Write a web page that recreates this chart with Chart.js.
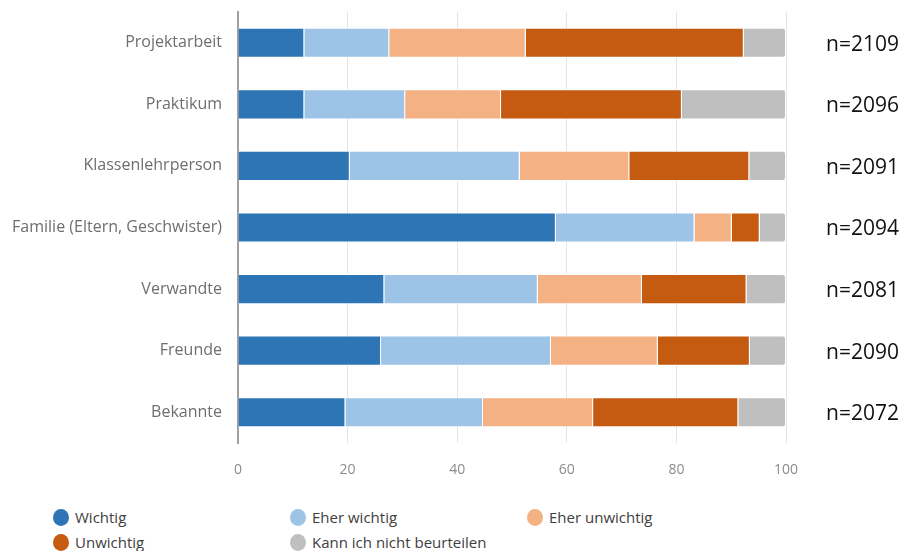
<!DOCTYPE html>
<html lang="de">
<head>
    <meta charset="UTF-8">
    <title>Wichtigkeit Berufswahl</title>
    <script src="https://cdn.jsdelivr.net/npm/chart.js"></script>
    <style>
        html, body { margin: 0; padding: 0; background: #fff; }
        .wrap { position: relative; width: 902px; height: 551px; font-family: "Open Sans", sans-serif; }
        .chart-box { position: absolute; left: 0; top: 0; width: 902px; height: 490px; }
        .legend { position: absolute; left: 53px; top: 506px; display: grid; grid-template-columns: 237px 237px 237px; row-gap: 3px; }
        .legend-item { display: flex; align-items: center; font-size: 15px; color: #404040; height: 22px; }
        .legend-dot { width: 16px; height: 17px; border-radius: 50%; margin-right: 6px; flex: none; }
    </style>
</head>
<body>
<div class="wrap">
    <div class="chart-box"><canvas id="bar-chart"></canvas></div>
    <div class="legend" id="legend"></div>
</div>

<script>
    // Daten (Prozent)
    const categories = ['Projektarbeit', 'Praktikum', 'Klassenlehrperson', 'Familie (Eltern, Geschwister)', 'Verwandte', 'Freunde', 'Bekannte'];
    const sampleSizes = [2109, 2096, 2091, 2094, 2081, 2090, 2072];
    const xTicks = [0, 20, 40, 60, 80, 100];

    const wichtig = [12.1, 12.1, 20.4, 58.0, 26.7, 26.1, 19.6];
    const eherWichtig = [15.5, 18.4, 31.0, 25.3, 28.0, 31.0, 25.1];
    const eherUnwichtig = [24.9, 17.5, 20.0, 6.8, 19.0, 19.5, 20.1];
    const unwichtig = [39.8, 33.0, 21.9, 5.1, 19.1, 16.8, 26.5];
    const nichtBeurteilen = [7.7, 19.0, 6.7, 4.8, 7.2, 6.6, 8.7];

    const seriesNames = ['Wichtig', 'Eher wichtig', 'Eher unwichtig', 'Unwichtig', 'Kann ich nicht beurteilen'];
    const seriesColors = ['#2E75B6', '#9DC3E6', '#F4B183', '#C55A11', '#BFBFBF'];
    const seriesData = [wichtig, eherWichtig, eherUnwichtig, unwichtig, nichtBeurteilen];

    // n= Beschriftung rechts neben den Balken
    const nLabels = {
        id: 'nLabels',
        afterDatasetsDraw(chart) {
            const ctx = chart.ctx;
            const meta = chart.getDatasetMeta(0);
            ctx.save();
            ctx.font = '21px "Open Sans", sans-serif';
            ctx.fillStyle = '#111';
            ctx.textAlign = 'left';
            ctx.textBaseline = 'middle';
            meta.data.forEach((bar, i) => {
                ctx.fillText('n=' + sampleSizes[i], chart.chartArea.right + 40, bar.y + 2);
            });
            ctx.restore();
        }
    };

    const chart = new Chart(document.getElementById('bar-chart'), {
        type: 'bar',
        data: {
            labels: categories,
            datasets: seriesData.map((d, i) => ({
                label: seriesNames[i],
                data: d,
                backgroundColor: seriesColors[i],
                borderColor: '#ffffff',
                borderWidth: 1,
                borderRadius: 3,
                barPercentage: 0.49,
                categoryPercentage: 1
            }))
        },
        options: {
            indexAxis: 'y',
            responsive: true,
            maintainAspectRatio: false,
            animation: false,
            layout: { padding: { top: 12, right: 116, left: 0, bottom: 0 } },
            plugins: {
                legend: { display: false },
                tooltip: { enabled: false }
            },
            scales: {
                x: {
                    stacked: true,
                    min: 0,
                    max: 100,
                    afterBuildTicks: s => { s.ticks = xTicks.map(v => ({ value: v })); },
                    afterFit: s => { s.height = 47; },
                    grid: { color: '#e4e4e4', drawTicks: false },
                    border: { display: false },
                    ticks: {
                        padding: 19,
                        color: '#8c8c8c',
                        font: { family: 'Open Sans', size: 14 }
                    }
                },
                y: {
                    stacked: true,
                    afterFit: s => { s.width = 238; s.paddingTop = 0; s.paddingBottom = 0; },
                    grid: { display: false },
                    border: { display: true, color: '#a0a0a0', width: 2 },
                    ticks: {
                        padding: 8,
                        color: '#6e6e6e',
                        font: { family: 'Open Sans', size: 16 }
                    }
                }
            }
        },
        plugins: [nLabels]
    });

    // Legende als HTML, aus den Datasets erzeugt
    const legendEl = document.getElementById('legend');
    chart.data.datasets.forEach(ds => {
        const item = document.createElement('div');
        item.className = 'legend-item';
        item.innerHTML = '<span class="legend-dot" style="background:' + ds.backgroundColor + '"></span>' + ds.label;
        legendEl.appendChild(item);
    });
</script>
</body>
</html>
